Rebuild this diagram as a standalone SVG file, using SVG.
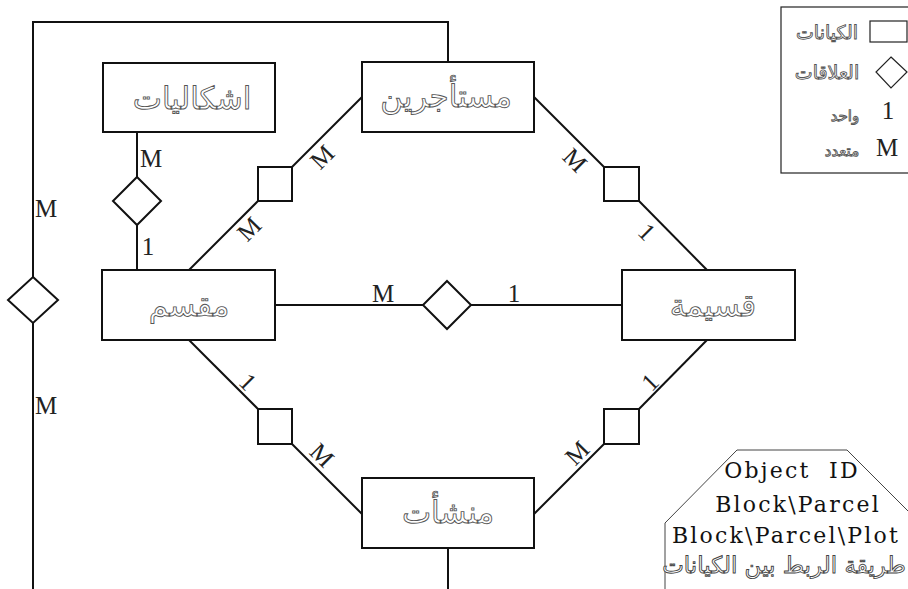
<svg xmlns="http://www.w3.org/2000/svg" width="908" height="589" viewBox="0 0 908 589">
  <style>
    .box { fill: #fff; stroke: #111; stroke-width: 2; }
    .rel { fill: #fff; stroke: #111; stroke-width: 2; }
    .wire { fill: none; stroke: #111; stroke-width: 2; }
    .card { font-family: "Liberation Serif", serif; font-size: 25px; fill: #222; text-anchor: middle; dominant-baseline: central; }
    .ar { font-family: "DejaVu Sans", "Noto Sans", sans-serif; fill: #fff; stroke: #555; stroke-width: 0.9; text-anchor: middle; text-rendering: geometricPrecision; }
    .big { font-size: 31px; }
    .leg { font-size: 19px; }
    .small { font-size: 15px; }
    .code { font-family: "DejaVu Serif", "Liberation Serif", serif; font-size: 22px; fill: #111; text-anchor: middle; letter-spacing: 2.2px; }
  </style>
  <rect width="908" height="589" fill="#fff"/>

  <!-- connectors -->
  <g id="connectors">
    <polyline class="wire" points="448,62 448,22 33,22 33,277"/>
    <line class="wire" x1="33" y1="323" x2="33" y2="589"/>
    <line class="wire" x1="137" y1="132" x2="137" y2="177"/>
    <line class="wire" x1="137" y1="225" x2="137" y2="270"/>
    <line class="wire" x1="275" y1="305" x2="423" y2="305"/>
    <line class="wire" x1="471" y1="305" x2="622" y2="305"/>
    <line class="wire" x1="189" y1="270" x2="258" y2="201"/>
    <line class="wire" x1="292" y1="167" x2="362" y2="97"/>
    <line class="wire" x1="534" y1="97" x2="604" y2="167"/>
    <line class="wire" x1="639" y1="201" x2="707" y2="270"/>
    <line class="wire" x1="189" y1="340" x2="258" y2="409"/>
    <line class="wire" x1="292" y1="444" x2="362" y2="514"/>
    <line class="wire" x1="707" y1="340" x2="639" y2="409"/>
    <line class="wire" x1="604" y1="444" x2="534" y2="514"/>
    <line class="wire" x1="448" y1="548" x2="448" y2="589"/>
  </g>

  <!-- relationship shapes -->
  <g id="rel-left"><polygon class="rel" points="33,277 58,300 33,323 8,300"/></g>
  <g id="rel-top"><polygon class="rel" points="137,177 161,201 137,225 113,201"/></g>
  <g id="rel-mid"><polygon class="rel" points="447,281 471,305 447,329 423,305"/></g>
  <g id="rel-ul"><rect class="rel" x="258" y="167" width="34" height="34"/></g>
  <g id="rel-ur"><rect class="rel" x="604" y="167" width="35" height="34"/></g>
  <g id="rel-ll"><rect class="rel" x="258" y="409" width="34" height="35"/></g>
  <g id="rel-lr"><rect class="rel" x="604" y="409" width="35" height="35"/></g>

  <!-- cardinalities -->
  <g id="cardinalities">
    <text class="card" x="46" y="208">M</text>
    <text class="card" x="46" y="405">M</text>
    <text class="card" x="151" y="158">M</text>
    <text class="card" x="148" y="246">1</text>
    <text class="card" x="383" y="293">M</text>
    <text class="card" x="514" y="293">1</text>
    <text class="card" transform="translate(322,157) rotate(-45)">M</text>
    <text class="card" transform="translate(249,229) rotate(-45)">M</text>
    <text class="card" transform="translate(575,160) rotate(45)">M</text>
    <text class="card" transform="translate(647,232) rotate(45)">1</text>
    <text class="card" transform="translate(248,382) rotate(45)">1</text>
    <text class="card" transform="translate(322,455) rotate(45)">M</text>
    <text class="card" transform="translate(650,382) rotate(-45)">1</text>
    <text class="card" transform="translate(577,453) rotate(-45)">M</text>
  </g>

  <!-- entities -->
  <g id="ishkaliyat">
    <rect class="box" x="103" y="63" width="172" height="69"/>
    <text class="ar big" x="192" y="109">اشكاليات</text>
  </g>
  <g id="mustajirin">
    <rect class="box" x="362" y="62" width="172" height="70"/>
    <text class="ar big" x="446" y="107">مستأجرين</text>
  </g>
  <g id="muqassam">
    <rect class="box" x="102" y="270" width="173" height="70"/>
    <text class="ar big" x="189" y="316">مقسم</text>
  </g>
  <g id="qasima">
    <rect class="box" x="622" y="270" width="173" height="70"/>
    <text class="ar big" x="713" y="316">قسيمة</text>
  </g>
  <g id="munshaat">
    <rect class="box" x="362" y="478" width="172" height="70"/>
    <text class="ar big" x="448" y="523">منشأت</text>
  </g>

  <!-- legend -->
  <g id="legend">
    <rect x="781" y="7" width="140" height="166" fill="#fff" stroke="#222" stroke-width="1.2"/>
    <rect x="870" y="21" width="37" height="21" fill="#fff" stroke="#222" stroke-width="1.2"/>
    <text class="ar leg" x="827" y="39">الكيانات</text>
    <polygon points="891,57 907,72 891,88 876,72" fill="#fff" stroke="#222" stroke-width="1.2"/>
    <text class="ar leg" x="827" y="79">العلاقات</text>
    <text class="card" x="888" y="110">1</text>
    <text class="ar small" x="845" y="121">واحد</text>
    <text class="card" x="887" y="147">M</text>
    <text class="ar small" x="842" y="156">متعدد</text>
  </g>

  <!-- linking key -->
  <g id="link-key">
    <polygon points="665,590 665,523 737,450 847,450 910,513 910,590" fill="#fff" stroke="#444" stroke-width="1"/>
    <text class="code" x="792" y="478" xml:space="preserve">Object  ID</text>
    <text class="code" x="798" y="512">Block\Parcel</text>
    <text class="code" x="786" y="543">Block\Parcel\Plot</text>
    <text class="ar" x="784" y="573" style="font-size:23px; stroke:#444">طريقة الربط بين الكيانات</text>
  </g>
</svg>
